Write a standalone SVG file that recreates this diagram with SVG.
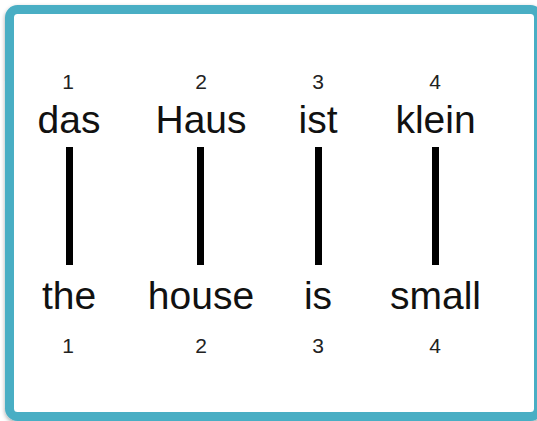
<svg xmlns="http://www.w3.org/2000/svg" width="537" height="421" viewBox="0 0 537 421">
<defs>
<filter id="sh" x="-5%" y="-5%" width="110%" height="110%"><feDropShadow dx="0" dy="2" stdDeviation="2" flood-color="#000" flood-opacity="0.35"/></filter>
</defs>
<style>
.w{font-family:"Liberation Sans",Arial,sans-serif;font-size:39px;fill:#111;text-anchor:middle}
.n{font-family:"Liberation Sans",Arial,sans-serif;font-size:21px;fill:#222;text-anchor:middle}
.l{stroke:#000;stroke-width:7;fill:none}
</style>
<rect width="537" height="421" fill="#fff"/>
<rect x="9.5" y="9.5" width="529" height="407" rx="8" fill="#fff" stroke="#4aaec4" stroke-width="9" filter="url(#sh)"/>
<g id="connectors">
<line class="l" x1="69.5" y1="147" x2="69.5" y2="265"/>
<line class="l" x1="200.5" y1="147" x2="200.5" y2="265"/>
<line class="l" x1="318.5" y1="147" x2="318.5" y2="265"/>
<line class="l" x1="435.5" y1="147" x2="435.5" y2="265"/>
</g>
<g id="de1"><text class="n" x="68" y="89">1</text><text class="w" x="69" y="133">das</text></g>
<g id="de2"><text class="n" x="201" y="89">2</text><text class="w" x="201" y="133">Haus</text></g>
<g id="de3"><text class="n" x="318" y="89">3</text><text class="w" x="318" y="133">ist</text></g>
<g id="de4"><text class="n" x="435" y="89">4</text><text class="w" x="435.5" y="133">klein</text></g>
<g id="en1"><text class="w" x="69" y="309">the</text><text class="n" x="68" y="353">1</text></g>
<g id="en2"><text class="w" x="201" y="309">house</text><text class="n" x="201" y="353">2</text></g>
<g id="en3"><text class="w" x="318" y="309">is</text><text class="n" x="318" y="353">3</text></g>
<g id="en4"><text class="w" x="435.5" y="309">small</text><text class="n" x="435" y="353">4</text></g>
</svg>
